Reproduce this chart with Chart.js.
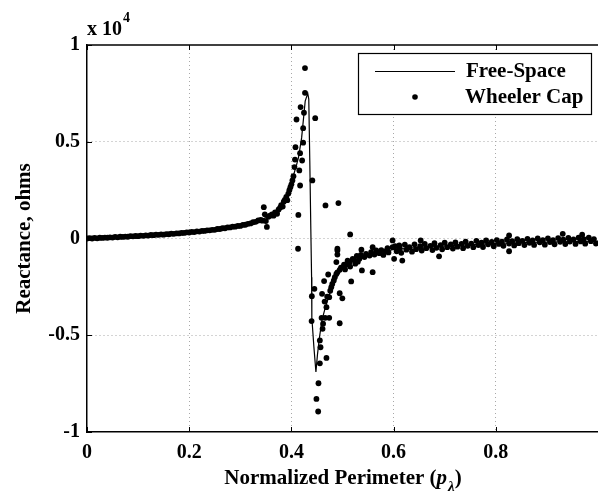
<!DOCTYPE html>
<html>
<head>
<meta charset="utf-8">
<script src="https://cdn.jsdelivr.net/npm/chart.js@4.4.0/dist/chart.umd.min.js"></script>
<style>
  html, body { margin: 0; padding: 0; background: #fff; overflow: hidden; }
  #wrap { width: 602px; height: 498px; }
</style>
</head>
<body>
<div id="wrap"><canvas id="chart" width="602" height="498"></canvas></div>
<script>
// Reactance (x 10^4 ohms) against normalized perimeter

const xTicks = [0, 0.2, 0.4, 0.6, 0.8];
const yTicks = [-1, -0.5, 0, 0.5, 1];

// Free-Space curve [perimeter, reactance]
const freeSpacePts = [
  [0, 0], [0.05, 0.006], [0.1, 0.013], [0.15, 0.021], [0.2, 0.032], [0.25, 0.046],
  [0.28, 0.058], [0.3, 0.066], [0.32, 0.079], [0.34, 0.097], [0.35, 0.108], [0.36, 0.124],
  [0.37, 0.145], [0.38, 0.175], [0.39, 0.22], [0.4, 0.29], [0.41, 0.38], [0.414, 0.42],
  [0.42, 0.52], [0.427, 0.71], [0.432, 0.75], [0.434, 0.72], [0.436, 0.4], [0.438, 0.05],
  [0.4395, -0.2], [0.44, -0.41], [0.444, -0.56], [0.448, -0.69], [0.451, -0.6], [0.455, -0.51],
  [0.46, -0.42], [0.466, -0.36], [0.472, -0.31], [0.478, -0.26], [0.485, -0.21], [0.492, -0.18],
  [0.5, -0.155], [0.51, -0.132], [0.52, -0.118], [0.535, -0.102], [0.55, -0.09], [0.57, -0.076],
  [0.6, -0.057], [0.65, -0.046], [0.7, -0.039], [0.75, -0.032], [0.8, -0.025], [0.9, -0.018],
  [1.0, -0.014]
];

// Wheeler Cap measurements [perimeter, reactance]
const wheelerCapPts = [
  // low band
  [0, 0], [0.005, 0.002], [0.01, 0], [0.015, 0.003], [0.02, 0.001], [0.025, 0.004],
  [0.03, 0.003], [0.035, 0.005], [0.04, 0.004], [0.045, 0.006], [0.05, 0.005], [0.055, 0.008],
  [0.06, 0.006], [0.065, 0.009], [0.07, 0.008], [0.075, 0.01], [0.08, 0.009], [0.085, 0.012],
  [0.09, 0.011], [0.095, 0.013], [0.1, 0.012], [0.105, 0.015], [0.11, 0.014], [0.115, 0.016],
  [0.12, 0.015], [0.125, 0.018], [0.13, 0.017], [0.135, 0.02], [0.14, 0.019], [0.145, 0.021],
  [0.15, 0.02], [0.155, 0.023], [0.16, 0.022], [0.165, 0.025], [0.17, 0.024], [0.175, 0.027],
  [0.18, 0.026], [0.185, 0.029], [0.19, 0.029], [0.195, 0.032], [0.2, 0.031], [0.205, 0.034],
  [0.21, 0.033], [0.215, 0.037], [0.22, 0.036], [0.225, 0.039], [0.23, 0.039], [0.235, 0.042],
  [0.24, 0.042], [0.245, 0.045], [0.25, 0.045], [0.255, 0.049], [0.26, 0.049], [0.265, 0.053],
  [0.27, 0.053], [0.275, 0.057], [0.28, 0.057], [0.285, 0.061], [0.29, 0.061], [0.295, 0.065],
  [0.3, 0.065], [0.305, 0.07], [0.31, 0.071], [0.315, 0.076], [0.32, 0.078], [0.325, 0.084],
  [0.33, 0.086], [0.335, 0.093], [0.34, 0.096],
  // rise to resonance
  [0.343, 0.092], [0.346, 0.162], [0.348, 0.125], [0.35, 0.09], [0.352, 0.06], [0.355, 0.112],
  [0.358, 0.118], [0.362, 0.125], [0.365, 0.118], [0.368, 0.135], [0.372, 0.128], [0.375, 0.15],
  [0.378, 0.16], [0.38, 0.172], [0.383, 0.165], [0.385, 0.19], [0.387, 0.2], [0.39, 0.215],
  [0.392, 0.198], [0.394, 0.232], [0.396, 0.25], [0.398, 0.265], [0.4, 0.28], [0.402, 0.3],
  [0.404, 0.322], [0.406, 0.369], [0.407, 0.408], [0.408, 0.472], [0.41, 0.615], [0.4136, 0.122],
  [0.4155, 0.352], [0.417, 0.274], [0.417, 0.441], [0.418, 0.679], [0.421, 0.403], [0.423, 0.495],
  [0.423, 0.57], [0.4246, 0.65], [0.4266, 0.753], [0.4266, 0.881], [0.441, 0.3], [0.4466, 0.622],
  [0.4667, 0.171], [0.492, 0.183], [0.515, 0.021],
  // fall and valley
  [0.413, -0.053], [0.4395, -0.427], [0.44, -0.298], [0.445, -0.26], [0.449, -0.829], [0.4524, -0.894],
  [0.453, -0.748], [0.4557, -0.645], [0.457, -0.562], [0.459, -0.41], [0.46, -0.286], [0.461, -0.467],
  [0.464, -0.22], [0.465, -0.326], [0.466, -0.41], [0.4686, -0.617], [0.472, -0.186], [0.474, -0.41],
  [0.488, -0.122], [0.49, -0.062], [0.49, -0.083], [0.4945, -0.283], [0.4945, -0.438], [0.4997, -0.309],
  [0.517, -0.222], [0.538, -0.165], [0.559, -0.174], [0.537, -0.058], [0.559, -0.045], [0.49, -0.053],
  // recovery branch
  [0.4557, -0.527], [0.462, -0.44], [0.4686, -0.355], [0.474, -0.303], [0.478, -0.252], [0.483, -0.217],
  [0.488, -0.183], [0.4945, -0.162], [0.501, -0.148], [0.507, -0.134], [0.514, -0.122], [0.524, -0.114],
  [0.533, -0.105], [0.543, -0.096], [0.553, -0.088], [0.5625, -0.083], [0.572, -0.076], [0.585, -0.066],
  [0.598, -0.045], [0.611, -0.036], [0.47, -0.3], [0.476, -0.27], [0.48, -0.235], [0.485, -0.2],
  [0.49, -0.175], [0.497, -0.15], [0.503, -0.135], [0.51, -0.115], [0.52, -0.105], [0.528, -0.09],
  [0.536, -0.085], [0.546, -0.08], [0.556, -0.07], [0.566, -0.062], [0.576, -0.06], [0.588, -0.05],
  [0.58, -0.085], [0.59, -0.072], [0.505, -0.16], [0.515, -0.145], [0.525, -0.13], [0.53, -0.12],
  // high band
  [0.603, -0.04], [0.606, -0.066], [0.612, -0.05], [0.615, -0.074], [0.622, -0.032], [0.625, -0.058],
  [0.631, -0.045], [0.636, -0.068], [0.641, -0.03], [0.644, -0.055], [0.652, -0.04], [0.655, -0.062],
  [0.661, -0.028], [0.664, -0.05], [0.672, -0.038], [0.676, -0.06], [0.68, -0.024], [0.684, -0.048],
  [0.692, -0.034], [0.695, -0.056], [0.7, -0.022], [0.705, -0.045], [0.712, -0.03], [0.716, -0.052],
  [0.721, -0.02], [0.725, -0.042], [0.733, -0.028], [0.736, -0.05], [0.741, -0.016], [0.745, -0.038],
  [0.752, -0.026], [0.756, -0.045], [0.762, -0.012], [0.766, -0.034], [0.772, -0.022], [0.775, -0.044],
  [0.781, -0.01], [0.785, -0.03], [0.792, -0.018], [0.796, -0.04], [0.802, -0.008], [0.806, -0.028],
  [0.812, -0.016], [0.815, -0.038], [0.822, -0.005], [0.826, -0.026], [0.832, -0.014], [0.836, -0.036],
  [0.842, -0.004], [0.845, -0.024], [0.852, -0.012], [0.856, -0.034], [0.862, -0.002], [0.866, -0.022],
  [0.872, -0.01], [0.875, -0.033], [0.882, 0], [0.886, -0.02], [0.892, -0.009], [0.896, -0.032],
  [0.902, 0.001], [0.906, -0.018], [0.912, -0.008], [0.915, -0.03], [0.922, 0.002], [0.926, -0.017],
  [0.932, -0.006], [0.936, -0.029], [0.942, 0.003], [0.945, -0.016], [0.952, -0.005], [0.956, -0.028],
  [0.962, 0.004], [0.966, -0.015], [0.972, -0.004], [0.975, -0.027], [0.982, 0.005], [0.986, -0.014],
  [0.992, -0.003], [0.996, -0.026],
  // scattered outliers
  [0.598, -0.01], [0.617, -0.114], [0.601, -0.105], [0.689, -0.092], [0.653, -0.01],
  [0.931, 0.024], [0.826, 0.016], [0.826, -0.066], [0.969, 0.02]
];

const SERIF = '"Liberation Serif", "Times New Roman", serif';
const toXY = pts => pts.map(p => ({ x: p[0], y: p[1] }));
const fmt = v => (v === 0 ? '0' : String(v));

// frame top line, inward ticks, exponent, x title with subscript, legend box
const decorations = {
  id: 'decorations',
  afterDraw(chart) {
    const { ctx, chartArea: a, scales } = chart;
    ctx.save();
    ctx.strokeStyle = '#000';
    ctx.lineWidth = 1.5;
    ctx.beginPath();
    ctx.moveTo(a.left, a.top);
    ctx.lineTo(a.right, a.top);
    ctx.stroke();

    ctx.lineWidth = 1;
    xTicks.forEach(v => {
      const px = Math.round(scales.x.getPixelForValue(v)) + 0.5;
      ctx.beginPath();
      ctx.moveTo(px, a.bottom); ctx.lineTo(px, a.bottom - 5);
      ctx.moveTo(px, a.top); ctx.lineTo(px, a.top + 5);
      ctx.stroke();
    });
    yTicks.forEach(v => {
      const py = Math.round(scales.y.getPixelForValue(v)) + 0.5;
      ctx.beginPath();
      ctx.moveTo(a.left, py); ctx.lineTo(a.left + 5, py);
      ctx.stroke();
    });

    ctx.fillStyle = '#000';
    ctx.textBaseline = 'alphabetic';
    ctx.textAlign = 'left';

    // exponent label
    ctx.font = 'bold 20px ' + SERIF;
    ctx.fillText('x 10', a.left, a.top - 10);
    const w10 = ctx.measureText('x 10').width;
    ctx.font = 'bold 14px ' + SERIF;
    ctx.fillText('4', a.left + w10 + 1, a.top - 23);

    // x-axis title
    const parts = [
      { t: 'Normalized Perimeter (', f: 'bold 21px ' + SERIF, dy: 0 },
      { t: 'p', f: 'italic bold 21px ' + SERIF, dy: 0 },
      { t: '\u03bb', f: 'italic bold 15px ' + SERIF, dy: 7 },
      { t: ')', f: 'bold 21px ' + SERIF, dy: 0 }
    ];
    let total = 0;
    parts.forEach(p => { ctx.font = p.f; p.w = ctx.measureText(p.t).width; total += p.w; });
    let tx = (a.left + a.right) / 2 - total / 2;
    const ty = 484;
    parts.forEach(p => { ctx.font = p.f; ctx.fillText(p.t, tx, ty + p.dy); tx += p.w + (p.t === 'p' ? 1 : 0); });

    // legend
    const bx = a.left + 271, by = a.top + 8, bw = 233, bh = 61;
    ctx.fillStyle = '#fff';
    ctx.fillRect(bx, by, bw, bh);
    ctx.strokeStyle = '#000';
    ctx.lineWidth = 1.2;
    ctx.strokeRect(bx + 0.5, by + 0.5, bw, bh);
    ctx.beginPath();
    ctx.moveTo(bx + 17, by + 18.5);
    ctx.lineTo(bx + 97, by + 18.5);
    ctx.stroke();
    ctx.fillStyle = '#000';
    ctx.beginPath();
    ctx.arc(bx + 57, by + 44, 2.8, 0, Math.PI * 2);
    ctx.fill();
    ctx.font = 'bold 21px ' + SERIF;
    ctx.textBaseline = 'middle';
    ctx.fillText('Free-Space', bx + 108, by + 19);
    ctx.fillText('Wheeler Cap', bx + 107, by + 45);
    ctx.restore();
  }
};

new Chart(document.getElementById('chart'), {
  type: 'scatter',
  data: {
    datasets: [
      {
        label: 'Free-Space',
        data: toXY(freeSpacePts),
        showLine: true,
        borderColor: '#000',
        borderWidth: 1.2,
        pointRadius: 0,
        tension: 0,
        order: 0
      },
      {
        label: 'Wheeler Cap',
        data: toXY(wheelerCapPts),
        pointRadius: 2.9,
        pointBackgroundColor: '#000',
        pointBorderWidth: 0,
        order: 1
      }
    ]
  },
  options: {
    responsive: false,
    animation: false,
    devicePixelRatio: 1,
    layout: { padding: { top: 45, left: 0, right: 0, bottom: 0 } },
    plugins: { legend: { display: false }, tooltip: { enabled: false } },
    scales: {
      x: {
        type: 'linear',
        min: 0,
        max: 1,
        afterBuildTicks: s => { s.ticks = xTicks.map(v => ({ value: v })); },
        afterFit: s => { s.height = 66; },
        grid: {
          drawTicks: false,
          color: c => (c.tick && c.tick.value === 0 ? 'rgba(0,0,0,0)' : '#a8a8a8')
        },
        border: { display: true, color: '#000', width: 1.5, dash: [1, 3] },
        ticks: {
          padding: 9,
          maxRotation: 0,
          color: '#000',
          font: { family: SERIF, size: 20, weight: 'bold' },
          callback: v => fmt(v)
        }
      },
      y: {
        type: 'linear',
        min: -1,
        max: 1,
        afterBuildTicks: s => { s.ticks = yTicks.map(v => ({ value: v })); },
        afterFit: s => { s.width = 87; },
        grid: {
          drawTicks: false,
          color: c => (c.tick && Math.abs(c.tick.value) === 1 ? 'rgba(0,0,0,0)' : '#a8a8a8')
        },
        border: { display: true, color: '#000', width: 1.5, dash: [1, 3] },
        ticks: {
          padding: 7,
          color: '#000',
          font: { family: SERIF, size: 20, weight: 'bold' },
          callback: v => fmt(v)
        },
        title: {
          display: true,
          text: 'Reactance, ohms',
          color: '#000',
          font: { family: SERIF, size: 21, weight: 'bold' },
          padding: { top: 12, bottom: 0 }
        }
      }
    }
  },
  plugins: [decorations]
});
</script>
</body>
</html>
